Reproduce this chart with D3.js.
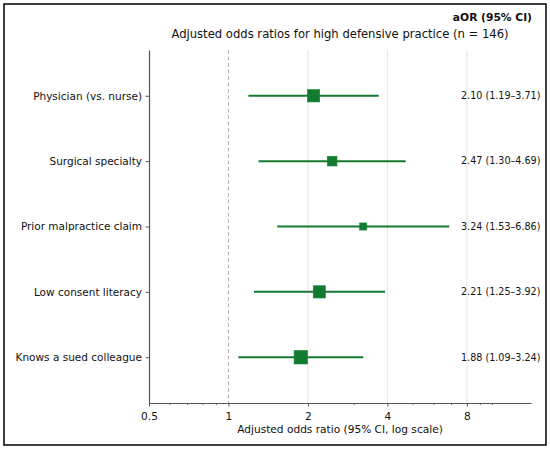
<!DOCTYPE html>
<html>
<head>
<meta charset="utf-8">
<script src="https://cdn.jsdelivr.net/npm/d3@7"></script>
<style>
  body { margin: 0; background: #fff; }
  text { font-family: "DejaVu Sans", sans-serif; fill: #111; }
</style>
</head>
<body>
<div id="chart"></div>
<script>
// Forest plot: adjusted odds ratios

const width = 550;
const height = 450;
const margin = {left: 149, right: 19, top: 50, bottom: 47};

// data
const labels = ["Physician (vs. nurse)", "Surgical specialty", "Prior malpractice claim",
                "Low consent literacy", "Knows a sued colleague"];
const aor = [2.10, 2.47, 3.24, 2.21, 1.88];
const ciLow = [1.19, 1.30, 1.53, 1.25, 1.09];
const ciHigh = [3.71, 4.69, 6.86, 3.92, 3.24];
const xTicks = [0.5, 1, 2, 4, 8];
const xMinor = [0.6, 0.7, 0.8, 0.9, 3, 5, 6, 7, 9, 10];

const green = "#137a2f";

const svg = d3.select("#chart")
  .append("svg")
  .attr("width", width)
  .attr("height", height);

// outer frame
svg.append("rect")
  .attr("x", 4).attr("y", 4)
  .attr("width", 542).attr("height", 441)
  .attr("fill", "none")
  .attr("stroke", "#000")
  .attr("stroke-width", 1.5);

const x = d3.scaleLog()
  .base(2)
  .domain([0.5, 14])
  .range([margin.left, width - margin.right]);

const y = d3.scaleLinear()
  .domain([-0.7, labels.length - 1 + 0.7])
  .range([margin.top, height - margin.bottom]);

// grid lines at 2, 4, 8
svg.append("g")
  .selectAll("line")
  .data(xTicks.filter(d => d > 1))
  .join("line")
    .attr("x1", d => x(d)).attr("x2", d => x(d))
    .attr("y1", margin.top).attr("y2", height - margin.bottom)
    .attr("stroke", "#e6e6e6")
    .attr("stroke-width", 1);

// reference line at OR = 1
svg.append("line")
  .attr("x1", x(1)).attr("x2", x(1))
  .attr("y1", margin.top).attr("y2", height - margin.bottom)
  .attr("stroke", "#b0b0b0")
  .attr("stroke-width", 1)
  .attr("stroke-dasharray", "4,2.5");

// x axis
const xAxis = svg.append("g")
  .attr("transform", `translate(0,${height - margin.bottom})`)
  .call(d3.axisBottom(x).tickValues(xTicks).tickFormat(d => d).tickSize(3.5).tickSizeOuter(0))
  .attr("font-size", "10.6px");
xAxis.select(".domain").attr("stroke", "#555").attr("stroke-width", 1.2);
xAxis.selectAll(".tick line").attr("stroke", "#555");
xAxis.selectAll("text").attr("fill", "#111").attr("dy", "0.95em")
  .attr("font-family", "DejaVu Sans, sans-serif");

// minor ticks
svg.append("g")
  .selectAll("line")
  .data(xMinor)
  .join("line")
    .attr("x1", d => x(d)).attr("x2", d => x(d))
    .attr("y1", height - margin.bottom).attr("y2", height - margin.bottom + 2)
    .attr("stroke", "#555")
    .attr("stroke-width", 0.8);

// y axis
const yAxis = svg.append("g")
  .attr("transform", `translate(${margin.left},0)`)
  .call(d3.axisLeft(y).tickValues(d3.range(labels.length)).tickFormat(i => labels[i]).tickSize(3.5).tickSizeOuter(0))
  .attr("font-size", "10.5px");
yAxis.select(".domain").attr("stroke", "#555").attr("stroke-width", 1.2);
yAxis.selectAll(".tick line").attr("stroke", "#555");
yAxis.selectAll("text").attr("fill", "#111").attr("x", -7)
  .attr("font-family", "DejaVu Sans, sans-serif");

// marker size from precision (inverse variance of log OR)
const weight = d3.range(labels.length).map(i => {
  const se = (Math.log(ciHigh[i]) - Math.log(ciLow[i])) / 3.92;
  return 1 / (se * se);
});
const size = d3.scaleLinear().domain([0, d3.max(weight)]).range([0, 13.5]);

// CI lines
svg.append("g")
  .selectAll("line")
  .data(d3.range(labels.length))
  .join("line")
    .attr("x1", i => x(ciLow[i])).attr("x2", i => x(ciHigh[i]))
    .attr("y1", i => y(i)).attr("y2", i => y(i))
    .attr("stroke", green)
    .attr("stroke-width", 2);

// point estimates
svg.append("g")
  .selectAll("rect")
  .data(d3.range(labels.length))
  .join("rect")
    .attr("x", i => x(aor[i]) - size(weight[i]) / 2)
    .attr("y", i => y(i) - size(weight[i]) / 2)
    .attr("width", i => size(weight[i]))
    .attr("height", i => size(weight[i]))
    .attr("fill", green)
    .attr("stroke", "#1f8a3d")
    .attr("stroke-width", 0.6);

// text column
const fmt = d3.format(".2f");
svg.append("g")
  .selectAll("text")
  .data(d3.range(labels.length))
  .join("text")
    .attr("x", 461)
    .attr("y", i => y(i))
    .attr("dy", "0.35em")
    .attr("font-size", "9.6px")
    .text(i => `${fmt(aor[i])} (${fmt(ciLow[i])}\u2013${fmt(ciHigh[i])})`);

svg.append("text")
  .attr("x", 532)
  .attr("y", 21)
  .attr("text-anchor", "end")
  .attr("font-size", "10.7px")
  .attr("font-weight", "bold")
  .text("aOR (95% CI)");

// title
svg.append("text")
  .attr("x", (margin.left + width - margin.right) / 2)
  .attr("y", 38)
  .attr("text-anchor", "middle")
  .attr("font-size", "11.6px")
  .text("Adjusted odds ratios for high defensive practice (n = 146)");

// x label
svg.append("text")
  .attr("x", (margin.left + width - margin.right) / 2)
  .attr("y", 433)
  .attr("text-anchor", "middle")
  .attr("font-size", "10.6px")
  .text("Adjusted odds ratio (95% CI, log scale)");
</script>
</body>
</html>
